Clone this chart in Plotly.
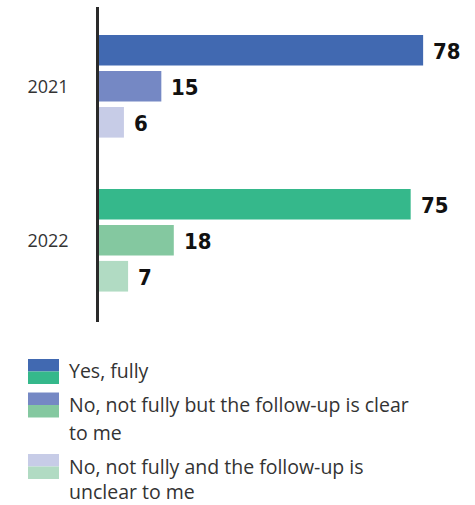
import plotly.graph_objects as go

# Survey answers by year
years = ["2021", "2022"]
answers = [
    "Yes, fully",
    "No, not fully but the follow-up is clear to me",
    "No, not fully and the follow-up is unclear to me",
]
values_2021 = [78, 15, 6]
values_2022 = [75, 18, 7]

# Legend text, wrapped as drawn
legend_lines = [
    ["Yes, fully"],
    ["No, not fully but the follow-up is clear", "to me"],
    ["No, not fully and the follow-up is", "unclear to me"],
]

colors_2021 = ["#4169b1", "#7588c4", "#c7cce7"]
colors_2022 = ["#35b88b", "#84c8a0", "#b1dbc3"]

# Page geometry (pixels)
WIDTH, HEIGHT = 475, 505
L, T = 99, 7
PLOT_W, PLOT_H = 374, 315
R = WIDTH - L - PLOT_W
B = HEIGHT - T - PLOT_H

SLOT = 0.2338   # spacing between bars inside a year group
BAR_W = 0.199   # bar thickness

def px_x(px):
    return (px - L) / PLOT_W

def px_y(py):
    return (T + PLOT_H - py) / PLOT_H

series = [values_2021, values_2022]
palettes = [colors_2021, colors_2022]

fig = go.Figure()
annotations = []
value_font = dict(family="DejaVu Sans Condensed, DejaVu Sans",
                  size=22, color="#111111", weight="bold")
for g, (vals, cols) in enumerate(zip(series, palettes)):
    ys = [g + (i - 1) * SLOT for i in range(len(vals))]
    fig.add_trace(go.Bar(
        x=vals, y=ys, orientation="h", width=BAR_W,
        marker=dict(color=cols, line=dict(width=0)),
        hoverinfo="skip", showlegend=False,
    ))
    for v, y in zip(vals, ys):
        annotations.append(dict(
            x=v, y=y, xref="x", yref="y", text=str(v), showarrow=False,
            xanchor="left", yanchor="middle", xshift=8, yshift=-1,
            font=value_font,
        ))

# Legend: split swatch (2021 on top, 2022 below) with wrapped labels
shapes = []
swatch_tops = [359, 392.5, 454]
swatch_h = 25
line_gaps = [28, 28, 26]
legend_font = dict(family="Open Sans", size=19.5, color="#333333")
for k, top in enumerate(swatch_tops):
    mid = top + swatch_h / 2
    shapes.append(dict(type="rect", xref="paper", yref="paper",
                       x0=px_x(28), x1=px_x(59), y0=px_y(mid), y1=px_y(top),
                       fillcolor=colors_2021[k], line=dict(width=0)))
    shapes.append(dict(type="rect", xref="paper", yref="paper",
                       x0=px_x(28), x1=px_x(59), y0=px_y(top + swatch_h), y1=px_y(mid),
                       fillcolor=colors_2022[k], line=dict(width=0)))
    for j, line in enumerate(legend_lines[k]):
        annotations.append(dict(
            x=px_x(67), y=px_y(top + 12 + j * line_gaps[k]), xref="paper", yref="paper",
            text=line, showarrow=False, xanchor="left", yanchor="middle",
            font=legend_font,
        ))

fig.update_layout(
    width=WIDTH, height=HEIGHT,
    margin=dict(l=L, r=R, t=T, b=B, pad=0),
    paper_bgcolor="white", plot_bgcolor="white",
    barmode="overlay",
    showlegend=False,
    xaxis=dict(range=[0, 90], visible=False, fixedrange=True),
    yaxis=dict(
        range=[1.531, -0.515],
        tickvals=list(range(len(years))), ticktext=years,
        showgrid=False, zeroline=False,
        showline=True, linecolor="#2a2a2a", linewidth=2.5,
        ticks="", ticklabelstandoff=24,
        tickfont=dict(family="Open Sans", size=18, color="#333333"),
        fixedrange=True,
    ),
    shapes=shapes,
    annotations=annotations,
)

fig.write_html("out.html")
